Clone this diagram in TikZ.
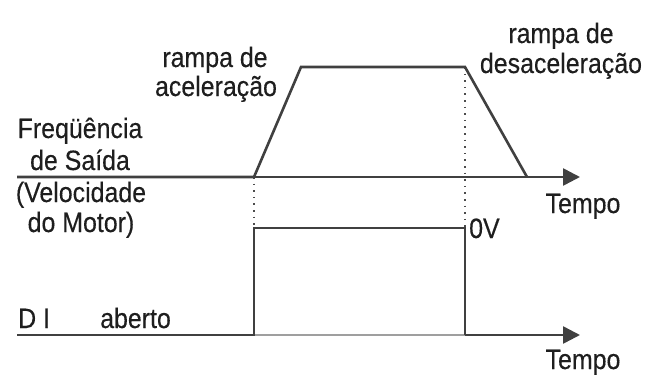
\documentclass[tikz,border=0pt]{standalone}
\usepackage{fontspec}
\setmainfont{Liberation Sans}[FakeStretch=0.89, FakeBold=0.3]
\usepackage{xcolor}
\usepackage{tikz}
\usetikzlibrary{arrows.meta}
\definecolor{lineclr}{HTML}{404040}
\definecolor{txtclr}{HTML}{1E1E1E}

\begin{document}
\begin{tikzpicture}[x=1pt, y=-1pt,
  sig/.style={draw=lineclr, line width=2.6pt, line join=miter},
  base/.style={draw=gray!75, line width=1.3pt},
  guide/.style={draw=gray!60!black, line width=1.1pt, dash pattern=on 1.6pt off 5pt},
  axisarrow/.style={sig, -{Triangle[length=17pt,width=17pt]}},
  lbl/.style={anchor=base, inner sep=0pt, text=txtclr, font=\fontsize{28}{30}\selectfont}]
  \useasboundingbox (0,0) rectangle (661,380);
  % frequency curve
  \coordinate (f0) at (17,177);
  \coordinate (r0) at (254,177);
  \coordinate (r1) at (301,67);
  \coordinate (r2) at (465,67);
  \coordinate (r3) at (527,177);
  \coordinate (fend) at (580,177);
  % digital input
  \coordinate (d0) at (17,335);
  \coordinate (s0) at (254,335);
  \coordinate (s1) at (254,228);
  \coordinate (s2) at (465,228);
  \coordinate (s3) at (465,335);
  \coordinate (dend) at (580,335);
  \draw[guide] (r0) -- (s1);
  \draw[guide] (r2) -- (s2);
  \draw[sig] (f0) -- (r0) -- (r1) -- (r2) -- (r3);
  \draw[axisarrow] (r0) -- (fend);
  \draw[base] (s0) -- (s3);
  \draw[sig] (d0) -- (s0) -- (s1) -- (s2) -- (s3);
  \draw[axisarrow] (s3) -- (dend);
  % labels
  \node[lbl] (freq) at (80,138) {Freqüência};
  \node[lbl] (saida) at (80,170) {de Saída};
  \node[lbl] (velo) at (81,202) {(Velocidade};
  \node[lbl] (motor) at (81,232) {do Motor)};
  \node[lbl] (acel1) at (215,67) {rampa de};
  \node[lbl] (acel2) at (216,96) {aceleração};
  \node[lbl] (desac1) at (561,43) {rampa de};
  \node[lbl] (desac2) at (561,73) {desaceleração};
  \node[lbl] (tempo1) at (583,213) {Tempo};
  \node[lbl] (tempo2) at (583,369) {Tempo};
  \node[lbl, anchor=base west] (zerov) at (469,238) {0V};
  \node[lbl, anchor=base west] (di) at (18,328) {D I};
  \node[lbl, anchor=base west] (aberto) at (100,328) {aberto};
\end{tikzpicture}
\end{document}
